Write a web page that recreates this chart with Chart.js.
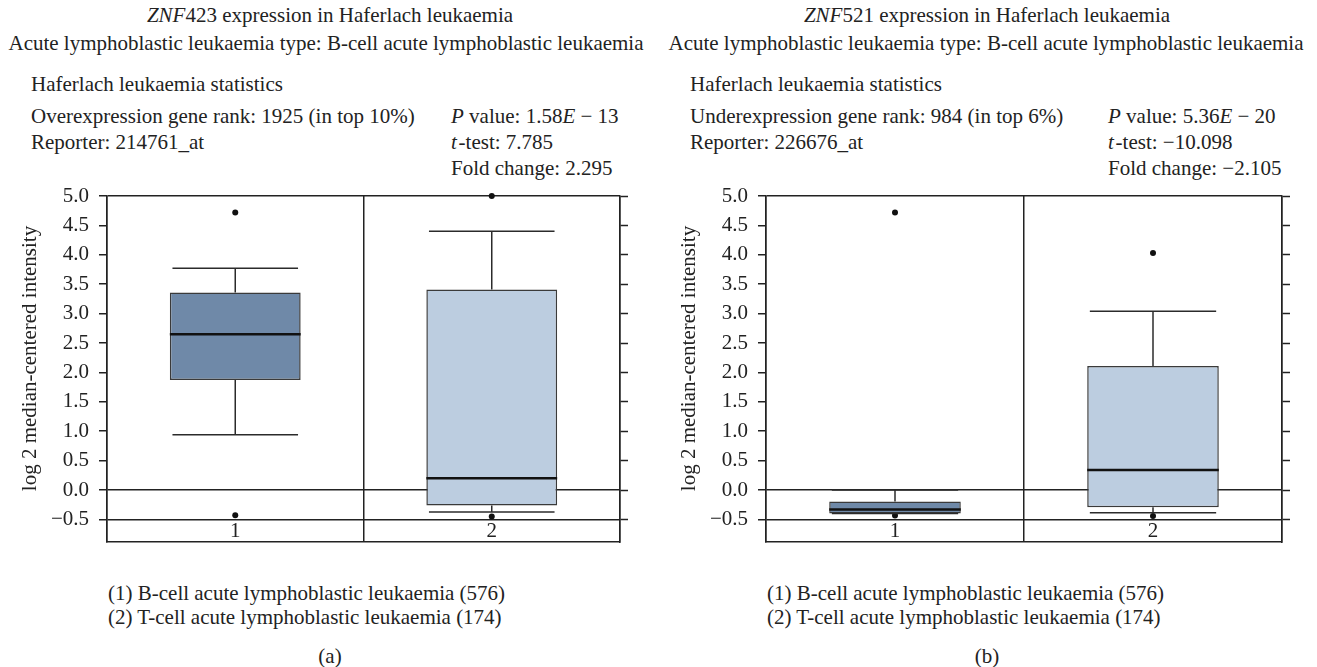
<!DOCTYPE html>
<html>
<head>
<meta charset="utf-8">
<script src="https://cdn.jsdelivr.net/npm/chart.js@4.4.1/dist/chart.umd.min.js"></script>
<style>
  body { margin: 0; background: #fff; width: 1317px; height: 667px; position: relative; overflow: hidden;
         font-family: 'Liberation Serif', 'DejaVu Serif', serif; font-size: 21px; color: #222; }
  .t { position: absolute; white-space: nowrap; line-height: 24px; }
  .c { transform: translateX(-50%); }
  .wrap { position: absolute; top: 180px; width: 659px; height: 380px; }
</style>
</head>
<body>

<!-- PANEL (a) TEXT -->
<div class="t c" style="left:330px; top:3px;"><i>ZNF</i>423 expression in Haferlach leukaemia</div>
<div class="t c" style="left:326px; top:31px;">Acute lymphoblastic leukaemia type: B-cell acute lymphoblastic leukaemia</div>
<div class="t" style="left:31px; top:72px;">Haferlach leukaemia statistics</div>
<div class="t" style="left:31px; top:104px;">Overexpression gene rank: 1925 (in top 10%)</div>
<div class="t" style="left:31px; top:130px;">Reporter: 214761_at</div>
<div class="t" style="left:451px; top:104px;"><i>P</i> value: 1.58<i>E</i> − 13</div>
<div class="t" style="left:451px; top:130px;"><i>t</i>&#8202;-test: 7.785</div>
<div class="t" style="left:451px; top:156px;">Fold change: 2.295</div>
<div class="wrap" style="left:0px;"><canvas id="chartA"></canvas></div>
<div class="t" style="left:108px; top:581px;">(1) B-cell acute lymphoblastic leukaemia (576)</div>
<div class="t" style="left:108px; top:605px;">(2) T-cell acute lymphoblastic leukaemia (174)</div>
<div class="t c" style="left:330px; top:644px;">(a)</div>

<!-- PANEL (b) TEXT -->
<div class="t c" style="left:987px; top:3px;"><i>ZNF</i>521 expression in Haferlach leukaemia</div>
<div class="t c" style="left:986px; top:31px;">Acute lymphoblastic leukaemia type: B-cell acute lymphoblastic leukaemia</div>
<div class="t" style="left:690px; top:72px;">Haferlach leukaemia statistics</div>
<div class="t" style="left:690px; top:104px;">Underexpression gene rank: 984 (in top 6%)</div>
<div class="t" style="left:690px; top:130px;">Reporter: 226676_at</div>
<div class="t" style="left:1108px; top:104px;"><i>P</i> value: 5.36<i>E</i> − 20</div>
<div class="t" style="left:1108px; top:130px;"><i>t</i>&#8202;-test: −10.098</div>
<div class="t" style="left:1108px; top:156px;">Fold change: −2.105</div>
<div class="wrap" style="left:659px;"><canvas id="chartB"></canvas></div>
<div class="t" style="left:767px; top:581px;">(1) B-cell acute lymphoblastic leukaemia (576)</div>
<div class="t" style="left:767px; top:605px;">(2) T-cell acute lymphoblastic leukaemia (174)</div>
<div class="t c" style="left:987px; top:644px;">(b)</div>

<script>
// DATA
const groupLabels = ['1', '2'];
const yTicks = [-0.5, 0, 0.5, 1, 1.5, 2, 2.5, 3, 3.5, 4, 4.5, 5];
const yRuleLines = [-0.5, 0, 5];
const yAxisTitle = 'log 2 median-centered intensity';

// panel (a) - ZNF423
const aLowWhisker = [0.94, -0.375];
const aQ1 = [1.87, -0.265];
const aMedian = [2.65, 0.20];
const aQ3 = [3.36, 3.41];
const aHighWhisker = [3.77, 4.40];
const aOutliers = [[4.72, -0.43], [5.0, -0.45]];

// panel (b) - ZNF521
const bLowWhisker = [-0.40, -0.385];
const bQ1 = [-0.40, -0.295];
const bMedian = [-0.33, 0.34];
const bQ3 = [-0.195, 2.11];
const bHighWhisker = [0.0, 3.04];
const bOutliers = [[4.72, -0.435], [4.03, -0.44]];

const boxColors = ['#6f89a8', '#bccde0'];
const ink = '#222';
const axisFont = { family: "'Liberation Serif', serif", size: 21 };

// WHISKERS, MEDIANS, GROUP LABELS
const boxWhiskers = {
    id: 'boxWhiskers',
    afterDatasetsDraw(chart, args, opts) {
        const y = chart.scales.y;
        const ctx = chart.ctx;
        const bars = chart.getDatasetMeta(0).data;
        const seg = (x1, y1, x2, y2) => { ctx.beginPath(); ctx.moveTo(x1, y1); ctx.lineTo(x2, y2); ctx.stroke(); };
        ctx.save();
        bars.forEach((bar, i) => {
            const cap = bar.width * 0.48;
            const pLow = y.getPixelForValue(opts.low[i]);
            const pHigh = y.getPixelForValue(opts.high[i]);
            const pQ1 = y.getPixelForValue(opts.q1[i]);
            const pQ3 = y.getPixelForValue(opts.q3[i]);
            ctx.strokeStyle = '#2b2b2b';
            ctx.lineWidth = 1.5;
            seg(bar.x, pQ1, bar.x, pLow);
            seg(bar.x, pQ3, bar.x, pHigh);
            seg(bar.x - cap, pLow, bar.x + cap, pLow);
            seg(bar.x - cap, pHigh, bar.x + cap, pHigh);
            ctx.lineWidth = 2.5;
            ctx.strokeStyle = '#111';
            const pMed = y.getPixelForValue(opts.median[i]);
            seg(bar.x - bar.width / 2, pMed, bar.x + bar.width / 2, pMed);
        });
        // group numbers sit inside the frame, under the -0.5 rule
        ctx.fillStyle = ink;
        ctx.font = axisFont.size + 'px ' + axisFont.family;
        ctx.textAlign = 'center';
        ctx.textBaseline = 'middle';
        const labelY = (y.getPixelForValue(yTicks[0]) + chart.chartArea.bottom) / 2 + 1;
        groupLabels.forEach((lab, i) => ctx.fillText(lab, chart.scales.x.getPixelForValue(i), labelY));
        ctx.restore();
    }
};

function setTicks(scale) {
    scale.ticks = yTicks.map(v => ({ value: v }));
}

// fixed axis sizes, no extra room for half labels at the ends
function fixSize(w, h) {
    return s => {
        if (w !== null) s.width = w;
        if (h !== null) s.height = h;
        s.paddingTop = 0; s.paddingBottom = 0; s.paddingLeft = 0; s.paddingRight = 0;
    };
}

function makeChart(id, low, q1, median, q3, high, outliers, padRight) {
    const points = [];
    outliers.forEach((list, i) => list.forEach(v => points.push({ x: groupLabels[i], y: v })));

    return new Chart(document.getElementById(id), {
        type: 'bar',
        data: {
            labels: groupLabels,
            datasets: [
                {
                    data: q1.map((v, i) => [v, q3[i]]),
                    backgroundColor: boxColors,
                    borderColor: '#3a3a3a',
                    borderWidth: 1.5,
                    borderSkipped: false,
                    grouped: false,
                    barPercentage: 0.51,
                    categoryPercentage: 1
                },
                {
                    type: 'line',
                    data: points,
                    showLine: false,
                    pointRadius: 3,
                    pointBackgroundColor: '#111',
                    pointBorderWidth: 0,
                    clip: false
                }
            ]
        },
        options: {
            animation: false,
            responsive: true,
            maintainAspectRatio: false,
            layout: { autoPadding: false, padding: { left: 18, right: padRight, top: 16, bottom: 18 } },
            plugins: {
                legend: { display: false },
                tooltip: { enabled: false },
                boxWhiskers: { low, q1, median, q3, high }
            },
            scales: {
                x: {
                    offset: true,
                    grid: { offset: true, color: ink, lineWidth: 1.5, drawTicks: false },
                    border: { color: ink, width: 1.5 },
                    ticks: { display: false },
                    afterFit: fixSize(null, 0)
                },
                y: {
                    min: -0.884, max: 5,
                    afterBuildTicks: setTicks,
                    afterFit: fixSize(89, null),
                    ticks: { font: axisFont, color: ink, padding: 10,
                             callback: v => v.toFixed(1).replace('-', '\u2212') },
                    grid: {
                        color: c => (c.tick && yRuleLines.includes(c.tick.value)) ? ink : 'rgba(0,0,0,0)',
                        lineWidth: 1.5, tickLength: 8, tickColor: ink, tickWidth: 1.5
                    },
                    border: { color: ink, width: 1.5 },
                    title: { display: true, text: '\u2002\u2002' + yAxisTitle, font: axisFont, color: ink, padding: 0 }
                },
                y2: {
                    position: 'right',
                    min: -0.884, max: 5,
                    afterBuildTicks: setTicks,
                    afterFit: fixSize(8, null),
                    ticks: { display: false },
                    grid: { drawOnChartArea: false, tickLength: 8, tickColor: ink, tickWidth: 1.5 },
                    border: { color: ink, width: 1.5 }
                }
            }
        },
        plugins: [boxWhiskers]
    });
}

makeChart('chartA', aLowWhisker, aQ1, aMedian, aQ3, aHighWhisker, aOutliers, 31);
makeChart('chartB', bLowWhisker, bQ1, bMedian, bQ3, bHighWhisker, bOutliers, 28);
</script>
</body>
</html>
